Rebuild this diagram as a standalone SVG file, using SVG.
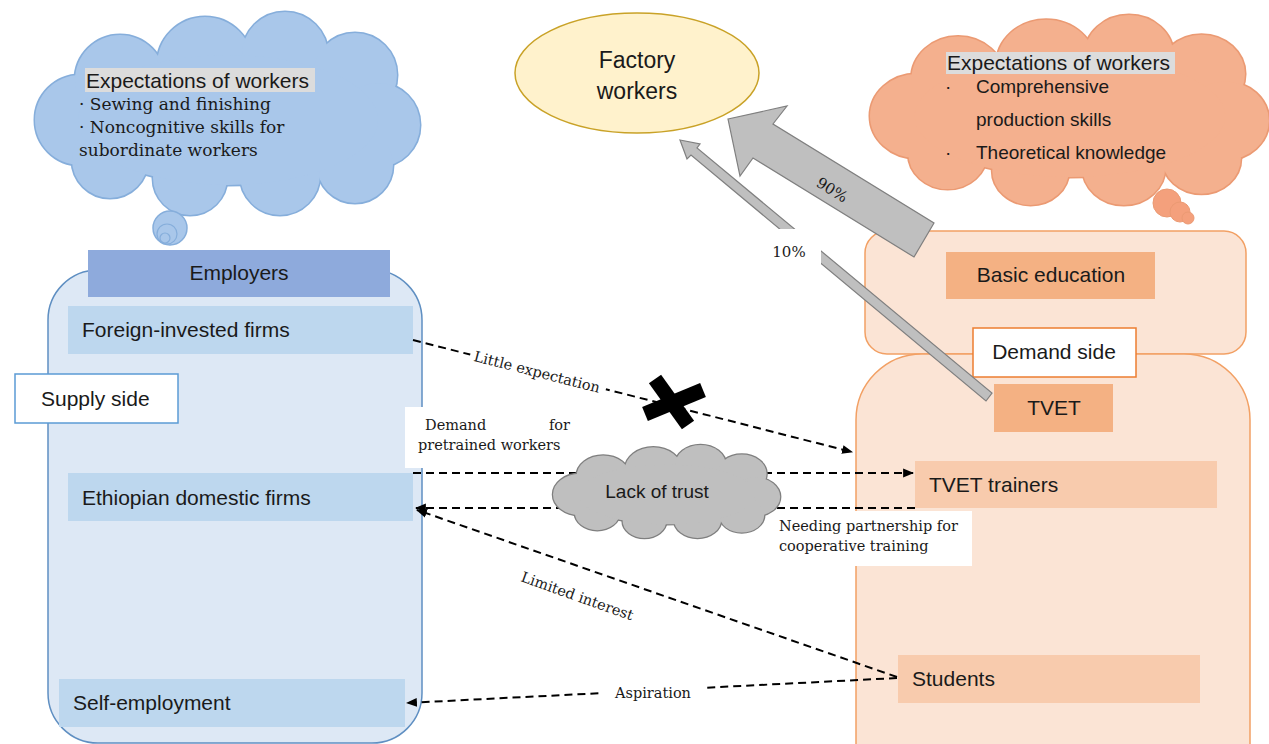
<svg xmlns="http://www.w3.org/2000/svg" xmlns:xlink="http://www.w3.org/1999/xlink" width="1269" height="744" viewBox="0 0 1269 744">
<style>
.sans{font-family:"Liberation Sans",Arial,sans-serif;fill:#1a1a1a}
.serif{font-family:"DejaVu Serif","Liberation Serif",serif;fill:#1a1a1a}
.lbl{font-family:"DejaVu Serif","Liberation Serif",serif;font-size:14.5px;fill:#1a1a1a}
.t21{font-size:21px}
.dash{fill:none;stroke:#000;stroke-width:2;stroke-dasharray:8 5}
.blueItem{fill:#bdd7ee}
.orItem{fill:#f4b183}
.orItem2{fill:#f8cbad}
</style>
<defs>
<marker id="ah" viewBox="0 0 10 10" refX="9" refY="5" markerWidth="11" markerHeight="11" markerUnits="userSpaceOnUse" orient="auto">
<path d="M0,1 L10,5 L0,9 Z" fill="#000"/>
</marker>
<g id="cloudShape">
<circle cx="45" cy="108" r="45" vector-effect="non-scaling-stroke"/>
<circle cx="85" cy="68" r="45" vector-effect="non-scaling-stroke"/>
<circle cx="170" cy="53" r="48" vector-effect="non-scaling-stroke"/>
<circle cx="250" cy="43" r="43" vector-effect="non-scaling-stroke"/>
<circle cx="320" cy="63" r="42" vector-effect="non-scaling-stroke"/>
<circle cx="343" cy="113" r="42" vector-effect="non-scaling-stroke"/>
<circle cx="320" cy="153" r="38" vector-effect="non-scaling-stroke"/>
<circle cx="245" cy="163" r="40" vector-effect="non-scaling-stroke"/>
<circle cx="155" cy="166" r="37" vector-effect="non-scaling-stroke"/>
<circle cx="75" cy="148" r="38" vector-effect="non-scaling-stroke"/>
<ellipse cx="193" cy="108" rx="150" ry="65" vector-effect="non-scaling-stroke"/>
</g>
</defs>
<rect width="1269" height="744" fill="#fff"/>

<!-- Blue expectation cloud -->
<g id="cloud-employers">
<use xlink:href="#cloudShape" href="#cloudShape" transform="translate(35,12)" fill="#a9c7ea" stroke="#86aedb" stroke-width="3"/>
<use xlink:href="#cloudShape" href="#cloudShape" transform="translate(35,12)" fill="#a9c7ea" stroke="none"/>
<circle cx="170" cy="228" r="17" fill="#a9c7ea" stroke="#86aedb" stroke-width="1.5"/>
<circle cx="167" cy="234" r="10" fill="none" stroke="#86aedb" stroke-width="1.2"/>
<circle cx="165" cy="238" r="5" fill="none" stroke="#86aedb" stroke-width="1.2"/>
<rect x="85" y="68" width="230" height="24" fill="#dcdcdc"/>
<text class="sans t21" x="86" y="88">Expectations of workers</text>
<text class="serif" font-size="17" x="79" y="110">· Sewing and finishing</text>
<text class="serif" font-size="17" x="79" y="133">· Noncognitive skills for</text>
<text class="serif" font-size="17" x="79" y="156">subordinate workers</text>
</g>

<!-- Orange expectation cloud -->
<g id="cloud-demand">
<use xlink:href="#cloudShape" href="#cloudShape" transform="translate(870,15) scale(1.036,0.936)" fill="#f4b08e" stroke="#eb9a73" stroke-width="3"/>
<use xlink:href="#cloudShape" href="#cloudShape" transform="translate(870,15) scale(1.036,0.936)" fill="#f4b08e" stroke="none"/>
<circle cx="1167" cy="203" r="14" fill="#f4a07c" stroke="#eb9a73" stroke-width="1"/>
<circle cx="1180" cy="212" r="10" fill="#f4a07c" stroke="#eb9a73" stroke-width="1"/>
<circle cx="1188" cy="218" r="6" fill="#f4a07c" stroke="#eb9a73" stroke-width="1"/>
<rect x="946" y="52" width="229" height="22" fill="#dcdcdc"/>
<text class="sans t21" x="947" y="70">Expectations of workers</text>
<text class="sans" font-size="19" x="945" y="93">·</text>
<text class="sans" font-size="19" x="976" y="93">Comprehensive</text>
<text class="sans" font-size="19" x="976" y="126">production skills</text>
<text class="sans" font-size="19" x="945" y="159">·</text>
<text class="sans" font-size="19" x="976" y="159">Theoretical knowledge</text>
</g>

<!-- Left: supply side -->
<g id="supply-box">
<rect x="48" y="270" width="374" height="473" rx="50" fill="#dde8f5" stroke="#5f8fc2" stroke-width="1.5"/>
</g>
<g id="employers">
<rect x="88" y="250" width="302" height="47" fill="#8eaadc"/>
<text class="sans t21" x="239" y="280" text-anchor="middle">Employers</text>
</g>
<g id="foreign-firms">
<rect class="blueItem" x="68" y="306" width="345" height="48"/>
<text class="sans t21" x="82" y="337">Foreign-invested firms</text>
</g>
<g id="supply-side">
<rect x="15" y="374" width="163" height="49" fill="#fff" stroke="#5b9bd5" stroke-width="1.5"/>
<text class="sans t21" x="41" y="406">Supply side</text>
</g>
<g id="domestic-firms">
<rect class="blueItem" x="68" y="473" width="345" height="48"/>
<text class="sans t21" x="82" y="505">Ethiopian domestic firms</text>
</g>
<g id="self-employment">
<rect class="blueItem" x="59" y="679" width="346" height="48"/>
<text class="sans t21" x="73" y="710">Self-employment</text>
</g>

<!-- Right: demand side -->
<g id="basic-box">
<rect x="865" y="231" width="381" height="123" rx="22" fill="#fbe4d5" stroke="#f2a064" stroke-width="1.5"/>
</g>
<g id="tvet-box">
<path d="M856,744 L856,420 A66,66 0 0 1 922,354 L1184,354 A66,66 0 0 1 1250,420 L1250,744" fill="#fbe4d5" stroke="#f2a064" stroke-width="1.5"/>
</g>
<g id="basic-education">
<rect class="orItem" x="946" y="252" width="209" height="47"/>
<text class="sans t21" x="1051" y="282" text-anchor="middle">Basic education</text>
</g>
<g id="demand-side">
<rect x="973" y="328" width="163" height="49" fill="#fff" stroke="#ed7d31" stroke-width="1.5"/>
<text class="sans t21" x="1054" y="359" text-anchor="middle">Demand side</text>
</g>
<g id="tvet">
<rect class="orItem" x="994" y="384" width="119" height="48"/>
<text class="sans t21" x="1054" y="415" text-anchor="middle">TVET</text>
</g>
<g id="tvet-trainers">
<rect class="orItem2" x="915" y="461" width="302" height="47"/>
<text class="sans t21" x="929" y="492">TVET trainers</text>
</g>
<g id="students">
<rect class="orItem2" x="898" y="655" width="302" height="48"/>
<text class="sans t21" x="912" y="686">Students</text>
</g>

<!-- Factory workers -->
<g id="factory-workers">
<ellipse cx="637" cy="73" rx="122" ry="60" fill="#fff2cc" stroke="#c9a227" stroke-width="1.5"/>
<text class="sans" font-size="23" x="637" y="68" text-anchor="middle">Factory</text>
<text class="sans" font-size="23" x="637" y="99" text-anchor="middle">workers</text>
</g>

<!-- Connectors -->
<g id="connectors">
<polygon points="728,119 787,106 773,124 934,223 914,257 753,158 740,176" fill="#bfbfbf" stroke="#7f7f7f" stroke-width="1.2"/>
<text class="serif" font-size="15" x="832" y="195" text-anchor="middle" transform="rotate(31.5 832 190)">90%</text>
<polygon points="680,140 700,144 697,148 992,393 986,401 691,155 687,159" fill="#bfbfbf" stroke="#7f7f7f" stroke-width="1.2"/>
<rect x="765" y="229" width="56" height="38" fill="#fff"/>
<text class="serif" font-size="15" x="789" y="257" text-anchor="middle">10%</text>

<path class="dash" d="M413,340 L852,452" marker-end="url(#ah)"/>
<rect x="468" y="362" width="140" height="20" fill="#fff" transform="rotate(14.4 537 372)"/>
<text class="lbl" x="537" y="377" text-anchor="middle" transform="rotate(14.4 537 372)">Little expectation</text>
<line x1="655" y1="379" x2="688" y2="425" stroke="#000" stroke-width="15"/>
<line x1="645" y1="414" x2="703" y2="390" stroke="#000" stroke-width="15"/>

<path class="dash" d="M413,473 L913,473" marker-end="url(#ah)"/>
<path class="dash" d="M915,508 L416,508" marker-end="url(#ah)"/>
<path class="dash" d="M897,677 L417,510" marker-end="url(#ah)"/>
<path class="dash" d="M897,678 L407,703" marker-end="url(#ah)"/>
<rect x="602" y="682" width="102" height="22" fill="#fff"/>
<text class="lbl" x="653" y="698" text-anchor="middle">Aspiration</text>
<text class="lbl" x="577" y="601" text-anchor="middle" transform="rotate(19.5 577 597)">Limited interest</text>

<rect x="405" y="407" width="168" height="61" fill="#fff"/>
<text class="lbl" x="425" y="430">Demand</text>
<text class="lbl" x="570" y="430" text-anchor="end">for</text>
<text class="lbl" x="418" y="450">pretrained workers</text>

<rect x="775" y="511" width="197" height="55" fill="#fff"/>
<text class="lbl" x="779" y="531">Needing partnership for</text>
<text class="lbl" x="779" y="551">cooperative training</text>
</g>

<!-- Lack of trust -->
<g id="lack-of-trust">
<use xlink:href="#cloudShape" href="#cloudShape" transform="translate(553,445) scale(0.59,0.458)" fill="#bfbfbf" stroke="#7f7f7f" stroke-width="2.5"/>
<use xlink:href="#cloudShape" href="#cloudShape" transform="translate(553,445) scale(0.59,0.458)" fill="#bfbfbf" stroke="none"/>
<text class="sans" font-size="19" x="657" y="498" text-anchor="middle">Lack of trust</text>
</g>
</svg>
